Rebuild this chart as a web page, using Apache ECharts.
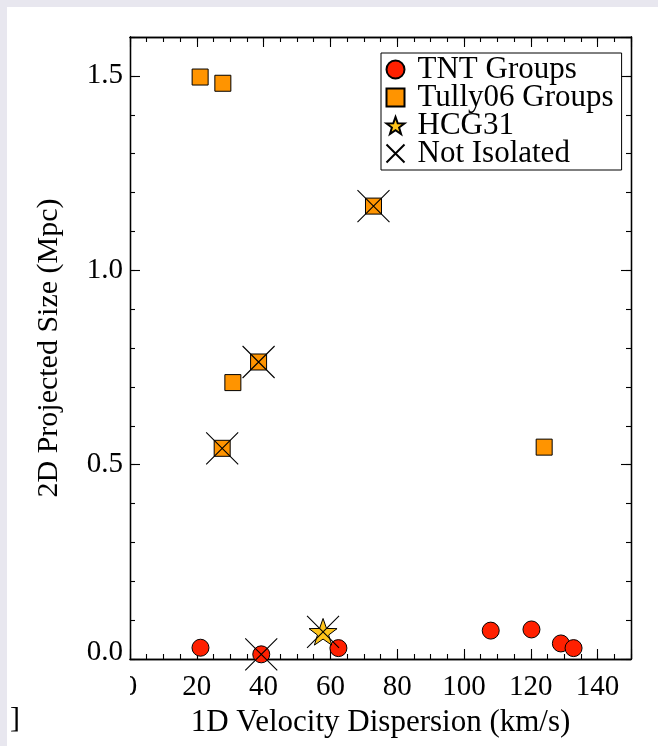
<!DOCTYPE html>
<html>
<head>
<meta charset="utf-8">
<script src="https://cdn.jsdelivr.net/npm/echarts@6/dist/echarts.min.js"></script>
<style>
  html, body { margin: 0; padding: 0; }
  body { width: 658px; height: 746px; background: #e8e7ef; position: relative; overflow: hidden; }
  #panel { position: absolute; left: 7px; top: 7px; width: 651px; height: 739px; background: #ffffff; }
  #chart { position: absolute; left: 0; top: 0; width: 658px; height: 746px; }
</style>
</head>
<body>
<div id="panel"></div>
<div id="chart"></div>
<script>
// ---- data ----
const seriesNames = ['TNT Groups', 'Tully06 Groups', 'HCG31', 'Not Isolated'];
const tntVel  = [21.1, 39.3, 62.4, 108.0, 120.2, 129.0, 132.8];
const tntSize = [0.029, 0.012, 0.028, 0.073, 0.076, 0.040, 0.028];
const tullyVel  = [21.0, 27.8, 30.8, 38.5, 27.6, 72.9, 124.0];
const tullySize = [1.497, 1.481, 0.711, 0.764, 0.542, 1.165, 0.545];
const hcgVel  = [57.8];
const hcgSize = [0.070];
const notIsoVel  = [39.3, 38.5, 27.6, 72.9, 57.8];
const notIsoSize = [0.012, 0.764, 0.542, 1.165, 0.070];
const xTitle = '1D Velocity Dispersion (km/s)';
const yTitle = '2D Projected Size (Mpc)';
const xRange = [0, 150], xMajor = 20, xMinor = 5;
const yRange = [0, 1.6], yMajor = 0.5, yMinor = 0.1;

const FONT = '"Liberation Serif", "Times New Roman", serif';
const zip = (a, b) => a.map((v, i) => [v, b[i]]);
const starPath = 'path://M50,0L61.76,33.82L97.55,34.55L69.02,56.18L79.39,90.45L50,70L20.61,90.45L30.98,56.18L2.45,34.55L38.24,33.82Z';
const crossPath = 'path://M0,0L10,10M10,0L0,10';

const lineStyle = { color: '#000', width: 1.3 };
function mkAxis(kind, position, major, withLabels) {
  const isX = kind === 'x';
  const range = isX ? xRange : yRange;
  const ax = {
    type: 'value', position: position, min: range[0], max: range[1],
    interval: major ? (isX ? xMajor : yMajor) : (isX ? xMinor : yMinor),
    axisLine: { show: true, onZero: false, lineStyle: lineStyle },
    splitLine: { show: false },
    axisTick: { show: true, inside: true, length: major ? 10 : 5, lineStyle: { color: '#000', width: 1.1 } },
    axisLabel: { show: false },
    silent: true
  };
  if (withLabels) {
    ax.axisLabel = isX ? {
      show: true, color: '#000', fontFamily: FONT, fontSize: 29, margin: 14,
      formatter: v => (v > 145 ? '' : String(v))
    } : {
      show: true, color: '#000', fontFamily: FONT, fontSize: 29, margin: 7,
      formatter: v => (v > 1.55 ? '' : (Math.abs(v) < 1e-9 ? '{z|0.0}' : v.toFixed(1))),
      rich: { z: { fontFamily: FONT, fontSize: 29, color: '#000', padding: [0, 0, 14, 0] } }
    };
    ax.name = isX ? xTitle : yTitle;
    ax.nameLocation = 'middle';
    ax.nameGap = isX ? 43 : 66;
    ax.nameTextStyle = { color: '#000', fontFamily: FONT, fontSize: isX ? 31 : 30 };
  }
  return ax;
}

const chart = echarts.init(document.getElementById('chart'), null, { renderer: 'canvas' });
chart.setOption({
  animation: false,
  backgroundColor: 'transparent',
  grid: { left: 130, right: 27, top: 37, bottom: 87, containLabel: false },
  xAxis: [
    mkAxis('x', 'bottom', true, true),
    mkAxis('x', 'bottom', false, false),
    mkAxis('x', 'top', true, false),
    mkAxis('x', 'top', false, false)
  ],
  yAxis: [
    mkAxis('y', 'left', true, true),
    mkAxis('y', 'left', false, false),
    mkAxis('y', 'right', true, false),
    mkAxis('y', 'right', false, false)
  ],
  legend: {
    orient: 'vertical', left: 381, top: 53, padding: [1, 8, 1, 3], itemGap: -3,
    itemWidth: 18, itemHeight: 18, selectedMode: false,
    borderColor: '#000', borderWidth: 1, backgroundColor: '#fff',
    textStyle: { color: '#000', fontFamily: FONT, fontSize: 31, padding: [0, 0, 0, 8] },
    data: seriesNames
  },
  series: [
    { name: seriesNames[0], type: 'scatter', symbol: 'circle', symbolSize: 17,
      itemStyle: { color: '#ff2000', borderColor: '#000', borderWidth: 1, opacity: 1 },
      emphasis: { disabled: true }, data: zip(tntVel, tntSize) },
    { name: seriesNames[1], type: 'scatter', symbol: 'rect', symbolSize: 16,
      itemStyle: { color: '#ff9400', borderColor: '#000', borderWidth: 1, opacity: 1 },
      emphasis: { disabled: true }, data: zip(tullyVel, tullySize) },
    { name: seriesNames[2], type: 'scatter', symbol: starPath, symbolSize: 28, symbolKeepAspect: true,
      itemStyle: { color: '#ffc41a', borderColor: '#000', borderWidth: 1, opacity: 1 },
      emphasis: { disabled: true }, data: zip(hcgVel, hcgSize) },
    { name: seriesNames[3], type: 'scatter', symbol: crossPath, symbolSize: 32,
      itemStyle: { color: 'none', borderColor: '#000', borderWidth: 1.1, opacity: 1 },
      emphasis: { disabled: true }, data: zip(notIsoVel, notIsoSize) }
  ],
  graphic: [
    { type: 'rect', z: 100, shape: { x: 100, y: 670, width: 30, height: 36 }, style: { fill: '#fff' }, silent: true },
    { type: 'text', z: 100, left: 10, top: 704, style: { text: ']', font: '30px ' + FONT, fill: '#000' }, silent: true }
  ]
});
</script>
</body>
</html>
